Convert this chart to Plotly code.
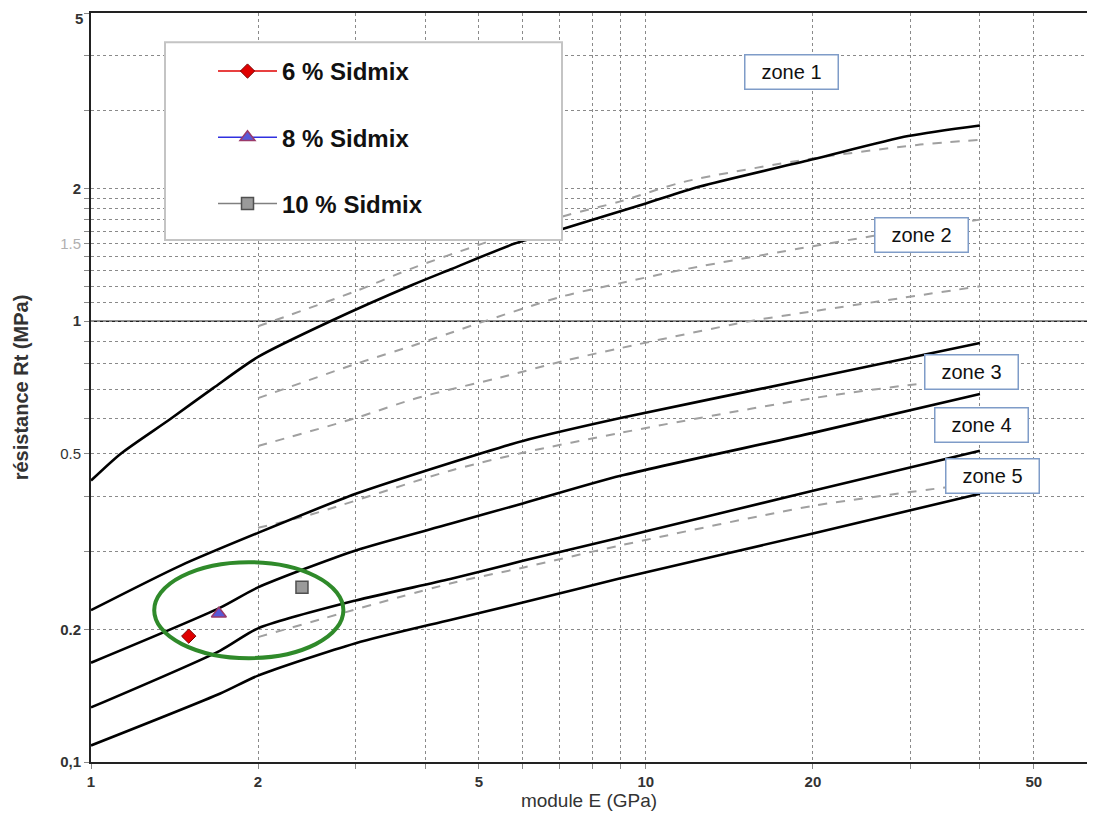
import plotly.graph_objects as go

# ---------------- data ----------------
# solid zone boundaries: module E (GPa) -> résistance Rt (MPa)
E_b1 = [1, 1.13, 1.39, 1.66, 2, 2.7, 3.8, 4.44, 5.8, 7.1, 10, 12.5, 20, 29.7, 40]
Rt_b1 = [0.435, 0.50, 0.60, 0.705, 0.83, 1.0, 1.21, 1.31, 1.50, 1.62, 1.85, 2.02, 2.33, 2.63, 2.78]
E_b2 = [1, 1.45, 2, 3, 4.44, 6, 9, 20, 40]
Rt_b2 = [0.221, 0.279, 0.331, 0.406, 0.477, 0.535, 0.603, 0.743, 0.892]
E_b3 = [1, 1.71, 2, 3, 4.44, 6, 9, 20, 40]
Rt_b3 = [0.168, 0.224, 0.249, 0.302, 0.347, 0.386, 0.446, 0.558, 0.684]
E_b4 = [1, 1.71, 2, 3, 4.44, 6, 9, 20, 40]
Rt_b4 = [0.133, 0.179, 0.201, 0.2325, 0.26, 0.286, 0.323, 0.4125, 0.508]
E_b5 = [1, 1.71, 2, 3, 4.44, 6, 9, 20, 40]
Rt_b5 = [0.109, 0.143, 0.157, 0.186, 0.210, 0.230, 0.261, 0.330, 0.406]

# dashed intermediate curves
E_d1 = [2, 3, 3.8, 5, 7.1, 9, 11.7, 20, 30.8, 40]
Rt_d1 = [0.974, 1.17, 1.32, 1.49, 1.73, 1.87, 2.07, 2.34, 2.51, 2.58]
E_d2 = [2, 3, 3.8, 4.44, 5, 7.1, 9, 11.7, 20, 25.6, 40]
Rt_d2 = [0.669, 0.80, 0.88, 0.94, 0.99, 1.14, 1.22, 1.31, 1.48, 1.56, 1.70]
E_d3 = [2, 3, 3.8, 4.44, 5.46, 7.1, 9, 15.4, 20, 40]
Rt_d3 = [0.521, 0.603, 0.665, 0.70, 0.745, 0.812, 0.869, 1.0, 1.053, 1.20]
E_d4 = [2, 2.45, 4.44, 6, 9, 11.7, 20, 30.8, 40]
Rt_d4 = [0.340, 0.362, 0.458, 0.503, 0.558, 0.594, 0.669, 0.72, 0.745]
E_d5 = [2, 4.44, 6, 9, 20, 34.3, 40]
Rt_d5 = [0.192, 0.254, 0.276, 0.31, 0.381, 0.419, 0.43]

# measured mixes
mix_names = ["6 % Sidmix", "8 % Sidmix", "10 % Sidmix"]
mix_E = [1.50, 1.70, 2.40]
mix_Rt = [0.193, 0.217, 0.249]

# highlight ellipse bounds (data units)
ell_E = [1.30, 2.85]
ell_Rt = [0.172, 0.284]

zone_labels = ["zone 1", "zone 2", "zone 3", "zone 4", "zone 5"]

# axis ticks
x_tickvals = [1, 2, 3, 4, 5, 6, 7, 8, 9, 10, 20, 30, 40, 50]
x_ticktext = ["<b>1</b>", "<b>2</b>", "", "", "<b>5</b>", "", "", "", "", "<b>10</b>",
              "<b>20</b>", "", "", "<b>50</b>"]
y_tickvals = [0.1, 0.2, 0.3, 0.4, 0.5, 0.6, 0.7, 0.8, 0.9, 1,
              1.1, 1.2, 1.3, 1.4, 1.5, 1.6, 1.7, 1.8, 1.9, 2, 3, 4, 5]
y_ticktext = ["<b>0,1</b>", "<b>0.2</b>", "", "", "0.5", "", "", "", "", "<b>1</b>",
              "", "", "", "", "<span style='color:#b0b0b0'>1.5</span>", "", "", "", "", "<b>2</b>",
              "", "", ""]
y_top_label = "<b>5</b>"

FONT = "Liberation Sans, Arial, sans-serif"

fig = go.Figure()

for ex, ry in [(E_d1, Rt_d1), (E_d2, Rt_d2), (E_d3, Rt_d3), (E_d4, Rt_d4), (E_d5, Rt_d5)]:
    fig.add_trace(go.Scatter(x=ex, y=ry, mode="lines", showlegend=False, hoverinfo="skip",
                             line=dict(color="#a0a0a0", width=2, dash="dash", shape="spline", smoothing=0.8)))

for ex, ry in [(E_b1, Rt_b1), (E_b2, Rt_b2), (E_b3, Rt_b3), (E_b4, Rt_b4), (E_b5, Rt_b5)]:
    fig.add_trace(go.Scatter(x=ex, y=ry, mode="lines", showlegend=False, hoverinfo="skip",
                             line=dict(color="black", width=2.6, shape="spline", smoothing=0.7)))

mix_styles = [
    dict(symbol="diamond", color="#e00000", line=dict(color="#7a0000", width=1), size=11, lc="#e00000"),
    dict(symbol="triangle-up", color="#5858d8", line=dict(color="#9a3a6a", width=1.5), size=13, lc="#3030e0"),
    dict(symbol="square", color="#9a9a9a", line=dict(color="#505050", width=1.5), size=12, lc="#808080"),
]
for i, name in enumerate(mix_names):
    st = mix_styles[i]
    fig.add_trace(go.Scatter(
        x=[mix_E[i]], y=[mix_Rt[i]], mode="lines+markers", name=name, legendgroup=name,
        marker=dict(symbol=st["symbol"], color=st["color"], size=st["size"], line=st["line"]),
        line=dict(color=st["lc"], width=1.5)))

# zone label positions (log10 units)
zone_pos = [(1.263, 0.566), (1.497, 0.195), (1.587, -0.115), (1.605, -0.235), (1.625, -0.351)]
annotations = []
for lab, (lx, ly) in zip(zone_labels, zone_pos):
    annotations.append(dict(x=lx, y=ly, xref="x", yref="y", text=lab, showarrow=False,
                            font=dict(family=FONT, size=20, color="#111111"),
                            bgcolor="white", bordercolor="#7f9cc8", borderwidth=1.5,
                            width=90, height=31, align="center"))
# top y tick label, kept inside the page
annotations.append(dict(x=0, y=1, xref="paper", yref="paper", text=y_top_label, showarrow=False,
                        xanchor="right", yanchor="top", xshift=-6, yshift=5,
                        font=dict(family=FONT, size=15, color="#333333")))

shapes = [
    # major gridline at 1 MPa
    dict(type="line", xref="paper", x0=0, x1=1, yref="y", y0=1, y1=1,
         line=dict(color="#222222", width=1.5), layer="below"),
    # legend box
    dict(type="rect", xref="paper", yref="paper", x0=0.0743, x1=0.4729, y0=0.697, y1=0.961,
         fillcolor="white", line=dict(color="#c4c4c4", width=2), layer="above"),
    # highlight ellipse
    dict(type="circle", xref="x", yref="y", x0=ell_E[0], x1=ell_E[1], y0=ell_Rt[0], y1=ell_Rt[1],
         line=dict(color="#2f8a2a", width=4), layer="above"),
]

fig.update_layout(
    width=1079, height=803,
    margin=dict(l=83, r=0, t=5, b=49),
    paper_bgcolor="white", plot_bgcolor="white",
    font=dict(family=FONT, color="#333333"),
    showlegend=True,
    legend=dict(x=0.1225, y=0.952, xanchor="left", yanchor="top",
                bgcolor="rgba(0,0,0,0)", borderwidth=0,
                font=dict(family=FONT, size=24, color="#111111", weight="bold"),
                itemwidth=59, tracegroupgap=32, traceorder="grouped"),
    annotations=annotations,
    shapes=shapes,
    xaxis=dict(type="log", range=[0, 1.795], tickvals=x_tickvals, ticktext=x_ticktext,
               showgrid=True, gridcolor="#8a8a8a", griddash="dot", gridwidth=1,
               showline=True, linecolor="#222222", linewidth=2, mirror=True,
               ticks="outside", ticklen=5, tickcolor="#888888", automargin=False,
               tickfont=dict(family=FONT, size=15, color="#333333"),
               title=dict(text="module E (GPa)", standoff=9,
                          font=dict(family=FONT, size=19, color="#333333")),
               zeroline=False),
    yaxis=dict(type="log", range=[-1, 0.6992], tickvals=y_tickvals, ticktext=y_ticktext,
               showgrid=True, gridcolor="#8a8a8a", griddash="dot", gridwidth=1,
               showline=True, linecolor="#222222", linewidth=2,
               ticks="outside", ticklen=5, tickcolor="#888888",
               automargin=False,
               tickfont=dict(family=FONT, size=15, color="#333333"),
               title=dict(text="<b>résistance Rt (MPa)</b>", standoff=26,
                          font=dict(family=FONT, size=20, color="#333333")),
               zeroline=False),
)

fig.write_html("out.html")
